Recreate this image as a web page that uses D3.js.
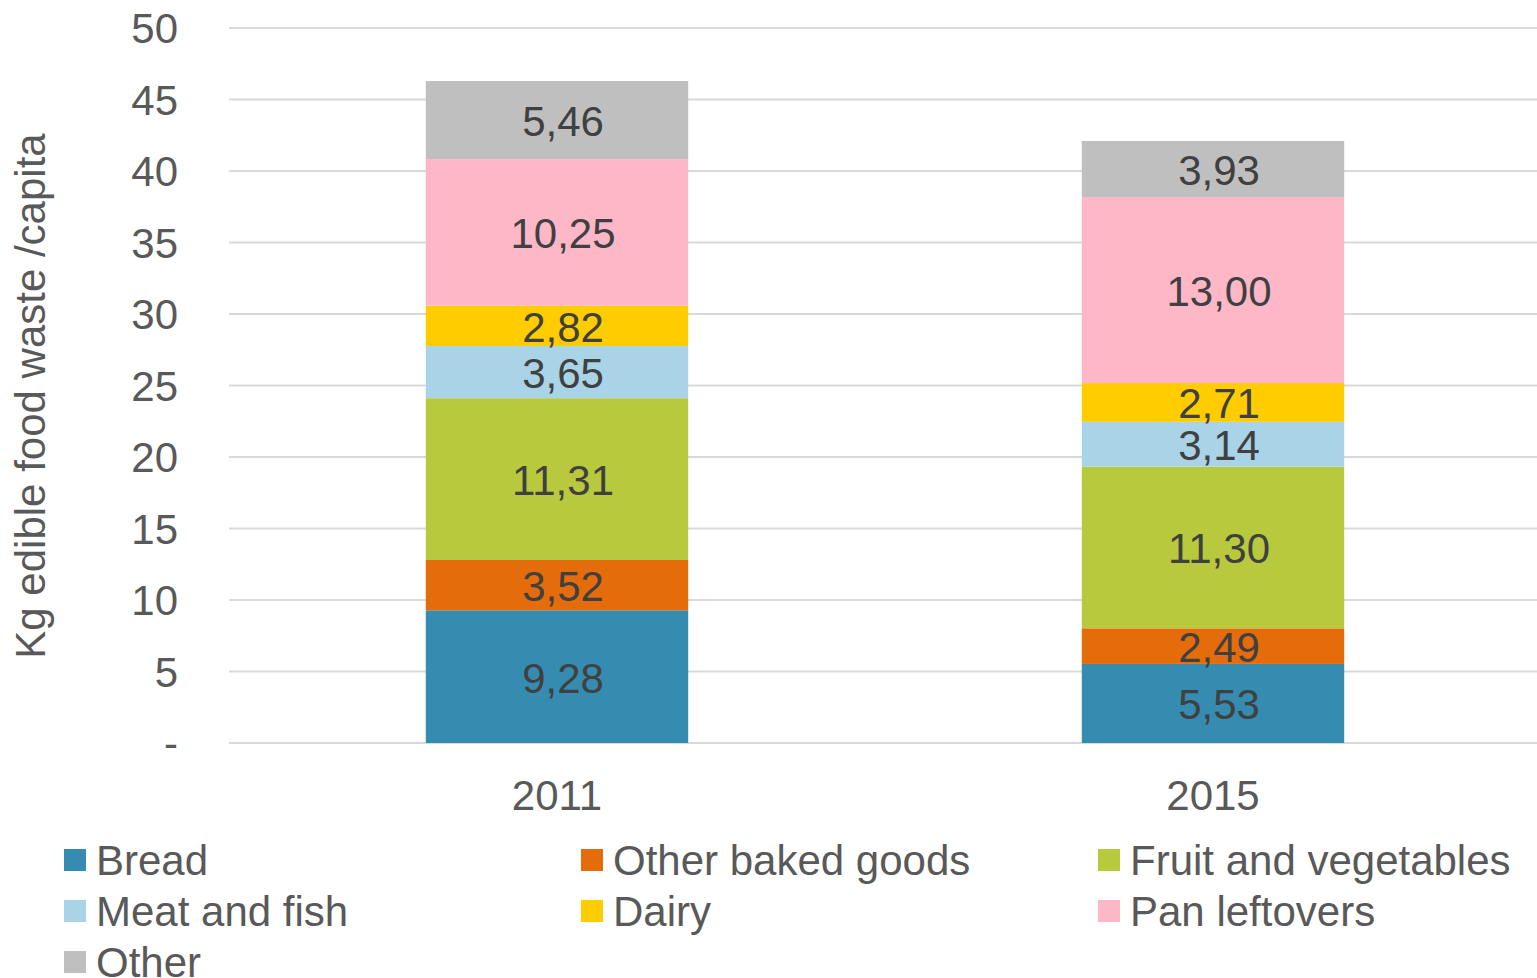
<!DOCTYPE html>
<html>
<head>
<meta charset="utf-8">
<script src="https://cdn.jsdelivr.net/npm/d3@7"></script>
<style>
  html, body { margin: 0; padding: 0; background: #fff; }
  svg { display: block; }
  text { font-family: "Liberation Sans", Arial, sans-serif; }
</style>
</head>
<body>
<svg id="chart" width="1537" height="978"></svg>
<script>
const years = ["2011", "2015"];
const seriesNames = ["Bread", "Other baked goods", "Fruit and vegetables", "Meat and fish", "Dairy", "Pan leftovers", "Other"];
const seriesColors = ["#358CB0", "#E46C0A", "#B8C93E", "#A9D3E6", "#FFCC00", "#FDB7C7", "#BFBFBF"];
const bread = [9.28, 5.53];
const otherBaked = [3.52, 2.49];
const fruitVeg = [11.31, 11.30];
const meatFish = [3.65, 3.14];
const dairy = [2.82, 2.71];
const panLeftovers = [10.25, 13.00];
const other = [5.46, 3.93];
const yTicks = [0, 5, 10, 15, 20, 25, 30, 35, 40, 45, 50];
const yTitle = "Kg edible food waste /capita";

const seriesValues = [bread, otherBaked, fruitVeg, meatFish, dairy, panLeftovers, other];
const rows = years.map((y, i) => {
  const r = { year: y };
  seriesNames.forEach((s, k) => { r[s] = seriesValues[k][i]; });
  return r;
});

const FS = 42;
const svg = d3.select("#chart");
const plot = { left: 229, right: 1537, top: 28, bottom: 743 };

const x = d3.scaleBand().domain(years).range([plot.left, 1541]).paddingInner(0.6).paddingOuter(0.3);
const y = d3.scaleLinear().domain([0, 50]).range([plot.bottom, plot.top]);

// gridlines
svg.append("g").selectAll("line").data(yTicks).join("line")
  .attr("x1", plot.left).attr("x2", plot.right)
  .attr("y1", d => y(d)).attr("y2", d => y(d))
  .attr("stroke", "#D9D9D9").attr("stroke-width", 2);

// y axis labels
const yAxis = d3.axisLeft(y).tickValues(yTicks).tickSize(0).tickPadding(0)
  .tickFormat(d => d === 0 ? "-" : d3.format("d")(d));
const gy = svg.append("g").attr("transform", `translate(178,0)`).call(yAxis);
gy.select(".domain").remove();
gy.selectAll("text").attr("font-size", FS).attr("fill", "#595959")
  .attr("font-family", "'Liberation Sans', Arial, sans-serif").attr("dy", "0.35em");

// stacked bars
const stack = d3.stack().keys(seriesNames);
const stacked = stack(rows);
const fmt = v => d3.format(".2f")(v).replace(".", ",");

const groups = svg.append("g").selectAll("g").data(stacked).join("g")
  .attr("fill", (d, i) => seriesColors[i]);
groups.selectAll("rect").data(d => d).join("rect")
  .attr("x", d => x(d.data.year))
  .attr("width", x.bandwidth())
  .attr("y", d => y(d[1]))
  .attr("height", d => y(d[0]) - y(d[1]));

// data labels
const labels = svg.append("g");
stacked.forEach(layer => {
  layer.forEach(d => {
    labels.append("text")
      .attr("x", x(d.data.year) + x.bandwidth() / 2 + 6)
      .attr("y", (y(d[0]) + y(d[1])) / 2)
      .attr("dy", "0.38em")
      .attr("text-anchor", "middle")
      .attr("font-size", FS)
      .attr("fill", "#404040")
      .text(fmt(d.data[layer.key]));
  });
});

// x axis labels
const xAxis = d3.axisBottom(x).tickSize(0).tickPadding(0);
const gx = svg.append("g").attr("transform", `translate(0,${plot.bottom})`).call(xAxis);
gx.select(".domain").remove();
gx.selectAll("text").attr("font-size", FS).attr("fill", "#595959")
  .attr("font-family", "'Liberation Sans', Arial, sans-serif")
  .attr("dy", 0).attr("y", 67);

// y title
svg.append("text")
  .attr("transform", `translate(45,396) rotate(-90)`)
  .attr("text-anchor", "middle")
  .attr("font-size", FS)
  .attr("fill", "#595959")
  .text(yTitle);

// legend
const legend = svg.append("g");
seriesNames.forEach((s, i) => {
  const col = i % 3, row = Math.floor(i / 3);
  const lx = 64 + col * 517, ly = 860 + row * 51;
  legend.append("rect").attr("x", lx).attr("y", ly - 11).attr("width", 22).attr("height", 22)
    .attr("fill", seriesColors[i]);
  legend.append("text").attr("x", lx + 32).attr("y", ly).attr("dy", "0.36em")
    .attr("font-size", FS).attr("fill", "#595959").text(s);
});
</script>
</body>
</html>
